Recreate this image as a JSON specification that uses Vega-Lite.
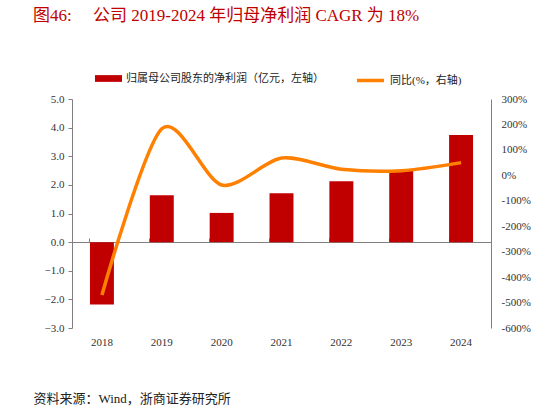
{
  "$schema": "https://vega.github.io/schema/vega-lite/v6.json",
  "width": 419,
  "height": 229,
  "autosize": "none",
  "padding": {"left": 72, "top": 99, "right": 57, "bottom": 82},
  "background": "white",
  "config": {
    "view": {"stroke": null},
    "font": "Liberation Serif, Noto Sans CJK SC",
    "axis": {"labelFont": "Liberation Serif, Noto Sans CJK SC", "labelFontSize": 11, "labelColor": "#333333", "domainColor": "#808080", "tickColor": "#808080", "grid": false},
    "legend": {"labelFont": "Liberation Serif, Noto Sans CJK SC", "labelFontSize": 11, "labelColor": "#222222", "labelLimit": 400}
  },
  "title": {
    "text": "图46:\u00a0\u00a0\u00a0\u00a0\u00a0公司 2019-2024 年归母净利润 CAGR 为 18%",
    "anchor": "start",
    "frame": "group",
    "dx": -39,
    "offset": 40,
    "fontSize": 17,
    "fontWeight": "normal",
    "font": "Liberation Serif, Noto Sans CJK SC",
    "color": "#C00000"
  },
  "data": {
    "values": [
      {"year": "2018", "profit": -2.18, "yoy": -470},
      {"year": "2019", "profit": 1.64, "yoy": 183},
      {"year": "2020", "profit": 1.02, "yoy": -38},
      {"year": "2021", "profit": 1.71, "yoy": 68},
      {"year": "2022", "profit": 2.13, "yoy": 24},
      {"year": "2023", "profit": 2.5, "yoy": 18},
      {"year": "2024", "profit": 3.74, "yoy": 50}
    ]
  },
  "layer": [
    {
      "mark": {"type": "bar", "color": "#C00000"},
      "encoding": {
        "x": {
          "field": "year", "type": "ordinal",
          "scale": {"paddingInner": 0.6, "paddingOuter": 0.3},
          "axis": {
            "orient": "bottom", "domain": false, "ticks": false, "labelAngle": 0, "labelPadding": 8,
            "title": "资料来源：Wind，浙商证券研究所",
            "titleFont": "Liberation Serif, Noto Sans CJK SC",
            "titleFontSize": 13, "titleFontWeight": "normal", "titleColor": "#222222",
            "titleAnchor": "start", "titleAlign": "left", "titleBaseline": "middle", "titleX": -39, "titleY": 70
          }
        },
        "y": {
          "field": "profit", "type": "quantitative",
          "scale": {"domain": [-3, 5], "nice": false, "zero": false},
          "axis": {"orient": "left", "values": [-3, -2, -1, 0, 1, 2, 3, 4, 5], "format": ".1f", "tickSize": 4, "labelPadding": 4, "title": null}
        },
        "fill": {
          "datum": "归属母公司股东的净利润（亿元，左轴）",
          "scale": {"range": ["#C00000"]},
          "legend": {
            "orient": "none", "legendX": 23, "legendY": -34, "title": null,
            "symbolType": "M-1,-0.25H1V0.25H-1Z", "symbolSize": 729, "symbolStrokeWidth": 0, "labelOffset": 4
          }
        }
      }
    },
    {
      "mark": {"type": "line", "interpolate": "cardinal", "tension": 0.15, "strokeWidth": 3.5, "color": "#FF8000"},
      "encoding": {
        "x": {
          "field": "year", "type": "ordinal",
          "axis": {"orient": "top", "offset": -143, "labels": false, "domain": true, "ticks": true, "tickSize": 4, "bandPosition": 0, "title": null}
        },
        "y": {
          "field": "yoy", "type": "quantitative",
          "scale": {"domain": [-600, 300], "nice": false, "zero": false},
          "axis": {"orient": "right", "values": [-600, -500, -400, -300, -200, -100, 0, 100, 200, 300], "labelExpr": "datum.value + '%'", "ticks": false, "labelPadding": 10, "title": null}
        },
        "stroke": {
          "datum": "同比(%，右轴)",
          "scale": {"range": ["#FF8000"]},
          "legend": {
            "orient": "none", "legendX": 283, "legendY": -34, "title": null,
            "symbolType": "stroke", "symbolSize": 729, "symbolStrokeWidth": 3.5, "labelOffset": 4
          }
        }
      }
    }
  ],
  "resolve": {"scale": {"y": "independent", "fill": "independent", "stroke": "independent"}, "axis": {"x": "independent", "y": "independent"}}
}
